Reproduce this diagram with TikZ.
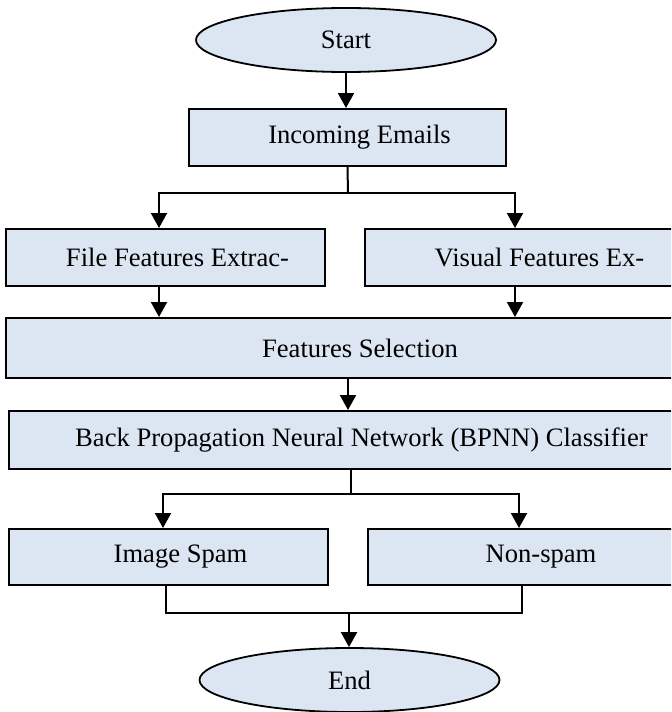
\documentclass[tikz,border=0pt]{standalone}
\usepackage{fontspec}
\setmainfont{Liberation Serif}
\usetikzlibrary{shapes.geometric,arrows.meta}

\definecolor{boxblue}{HTML}{DCE6F2}

\tikzset{
    stepbox/.style={draw, line width=1pt, fill=boxblue, rectangle, inner sep=0pt,
        minimum height=28.5pt, font=\fontsize{13.3}{16}\selectfont,
        execute at begin node={\hspace*{12pt}}},
    terminal/.style={draw, line width=0.9pt, fill=boxblue, ellipse, inner sep=0pt,
        minimum width=150pt, minimum height=32pt, font=\fontsize{13.3}{16}\selectfont},
    flow/.style={line width=1pt, -{Triangle[length=7.5pt,width=8pt]}},
    link/.style={line width=1pt},
    thinlink/.style={line width=0.7pt}
}

\begin{document}
\begin{tikzpicture}[x=0.5pt, y=-0.5pt]

    % Page frame, boxes on the right run past the edge
    \useasboundingbox (0,0) rectangle (671,712);
    \clip (0,0) rectangle (671,712);

    % Steps
    \node[terminal] (start) at (346,40) {Start};
    \node[stepbox, minimum width=158.5pt] (emails) at (347.5,137.5) {Incoming Emails};
    \node[stepbox, minimum width=159.5pt] (filefeat) at (165.5,257.5) {File Features Extrac-};
    \node[stepbox, minimum width=162.5pt] (visfeat) at (527.5,257.5) {Visual Features Ex-};
    \node[stepbox, minimum width=342pt, minimum height=30pt] (featsel) at (348,348) {Features Selection};
    \node[stepbox, minimum width=340.5pt, minimum height=29pt] (bpnn) at (349.5,440) {Back Propagation Neural Network (BPNN) Classifier};
    \node[stepbox, minimum width=159.5pt, minimum height=28pt] (spam) at (168.5,557) {Image Spam};
    \node[stepbox, minimum width=161pt, minimum height=28pt] (nonspam) at (529,557) {Non-spam};
    \node[terminal] (stop) at (349.5,680) {End};

    % Branch points
    \coordinate (fork1) at (348,193);
    \coordinate (colL) at (159,0);
    \coordinate (colR) at (515,0);
    \coordinate (fork2) at (351,494);
    \coordinate (outL) at (163,0);
    \coordinate (outR) at (519,0);
    \coordinate (merge) at (349,613);

    % Connectors
    \draw[flow] (start.south) -- (start.south |- emails.north);
    \draw[link] (emails.south) -- (fork1);
    \draw[flow] (fork1) -| (colL |- filefeat.north);
    \draw[flow] (fork1) -| (colR |- visfeat.north);
    \draw[flow] (colL |- filefeat.south) -- (colL |- featsel.north);
    \draw[flow] (colR |- visfeat.south) -- (colR |- featsel.north);
    \draw[flow] (featsel.south) -- (featsel.south |- bpnn.north);
    \draw[link] (bpnn.south -| fork2) -- (fork2);
    \draw[flow] (fork2) -| (outL |- spam.north);
    \draw[flow] (fork2) -| (outR |- nonspam.north);
    \draw[thinlink] ([xshift=-1.25pt]spam.south) |- (merge);
    \draw[thinlink] ([xshift=-3.5pt]nonspam.south) |- (merge);
    \draw[flow] (merge) -- (merge |- stop.north);

\end{tikzpicture}
\end{document}
